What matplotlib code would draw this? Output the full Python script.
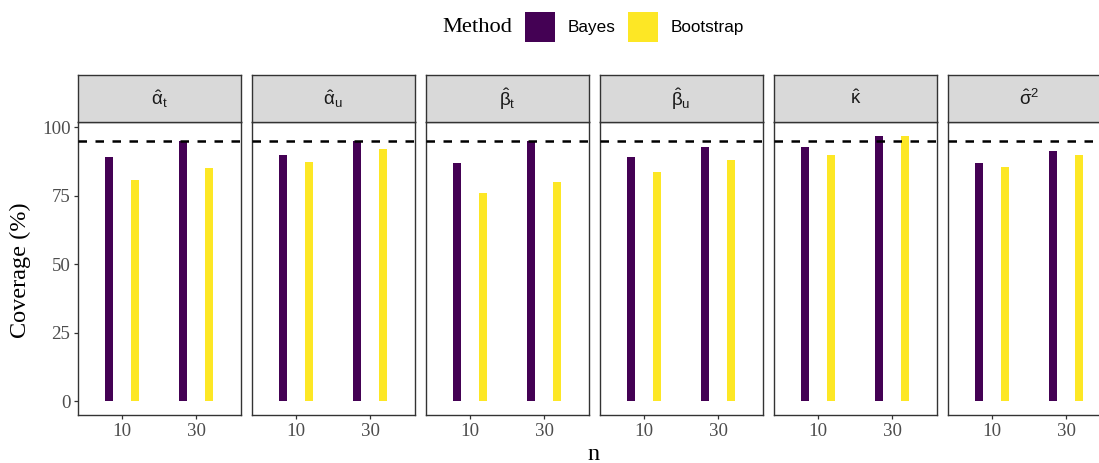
import matplotlib
matplotlib.use("Agg")
import matplotlib.pyplot as plt
from matplotlib.patches import Patch

# ---------------- data ----------------
params = [r"$\hat{\alpha}_{\mathrm{t}}$", r"$\hat{\alpha}_{\mathrm{u}}$",
          r"$\hat{\beta}_{\mathrm{t}}$", r"$\hat{\beta}_{\mathrm{u}}$",
          r"$\hat{\kappa}$", r"$\hat{\sigma}^{2}$"]
n_levels = ["10", "30"]
methods = ["Bayes", "Bootstrap"]
bayes_cov = [[89.2, 95.0], [90.0, 95.0], [87.1, 95.0], [89.3, 93.0], [93.0, 97.0], [87.1, 91.5]]
boot_cov = [[80.9, 85.3], [87.5, 92.2], [76.2, 80.2], [83.8, 88.2], [90.0, 97.0], [85.7, 90.0]]
nominal = 95
y_ticks = [0, 25, 50, 75, 100]

colors = {"Bayes": "#440154", "Bootstrap": "#FDE725"}

# ---------------- style ----------------
plt.rcParams["mathtext.fontset"] = "custom"
plt.rcParams["mathtext.rm"] = "Liberation Sans"
plt.rcParams["mathtext.it"] = "Liberation Sans"
plt.rcParams["mathtext.bf"] = "Liberation Sans:bold"
SERIF = "Liberation Serif"
SANS = "Liberation Sans"

W, H = 1099, 463
fig = plt.figure(figsize=(W / 100, H / 100), dpi=100)

def rect(x0, ytop, w, h):
    return [x0 / W, 1 - (ytop + h) / H, w / W, h / H]

panel_left0 = 77.7
pitch = 174.0
pw = 163.0
ptop, pbot = 122.3, 414.5
stop = 75.0

offset = 0.175
bw = 0.11
xpos = [1, 2]

for i, lab in enumerate(params):
    x0 = panel_left0 + i * pitch
    ax = fig.add_axes(rect(x0, ptop, pw, pbot - ptop))
    ax.bar([x - offset for x in xpos], bayes_cov[i], width=bw, color=colors["Bayes"], zorder=2)
    ax.bar([x + offset for x in xpos], boot_cov[i], width=bw, color=colors["Bootstrap"], zorder=2)
    ax.axhline(nominal, color="black", lw=1.8, dashes=(3.4, 3.4), zorder=3)
    ax.set_xlim(0.4, 2.6)
    ax.set_ylim(-4.85, 101.85)
    ax.set_xticks(xpos)
    ax.set_xticklabels(n_levels)
    ax.set_yticks(y_ticks)
    for s in ax.spines.values():
        s.set_color("#333333")
        s.set_linewidth(1.0)
    ax.tick_params(colors="#333333", labelcolor="#4D4D4D", length=2.75, width=0.9,
                   labelsize=13.6, pad=2.5)
    ax.tick_params(axis="x", pad=3.2)
    for t in ax.get_xticklabels() + ax.get_yticklabels():
        t.set_fontfamily(SERIF)
    if i > 0:
        ax.tick_params(axis="y", left=False, labelleft=False)

    sx = fig.add_axes(rect(x0, stop, pw, ptop - stop))
    sx.set_facecolor("#D9D9D9")
    sx.set_xticks([])
    sx.set_yticks([])
    for s in sx.spines.values():
        s.set_color("#333333")
        s.set_linewidth(1.0)
    sx.text(0.5, 0.5, lab, transform=sx.transAxes, ha="center", va="center",
            fontsize=13.5, color="#1A1A1A", family=SANS)

fig.text(20 / W, 1 - 270 / H, "Coverage (%)", rotation=90, ha="center", va="center",
         fontsize=17.5, family=SERIF, color="black")
fig.text(594 / W, 1 - 460 / H, "n", ha="center", va="baseline",
         fontsize=17.5, family=SERIF, color="black")

# legend
fig.text(442 / W, 1 - 27 / H, "Method", ha="left", va="center", fontsize=16.2,
         family=SERIF, color="black")
handles = [Patch(facecolor=colors[m], edgecolor="none") for m in methods]
leg = fig.legend(handles, methods, loc="center left", bbox_to_anchor=(525 / W, 1 - 27 / H),
                 ncol=2, frameon=False, handlelength=1.75, handleheight=2.32,
                 handletextpad=0.75, columnspacing=0.75, borderpad=0, borderaxespad=0,
                 prop={"family": SANS, "size": 12.3})

fig.savefig("out.png", dpi=100)
